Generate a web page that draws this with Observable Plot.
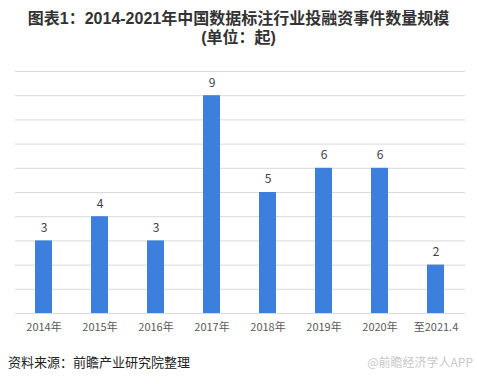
<!DOCTYPE html>
<html>
<head>
<meta charset="utf-8">
<script src="https://cdn.jsdelivr.net/npm/d3@7"></script>
<script src="https://cdn.jsdelivr.net/npm/@observablehq/plot@0.6"></script>
<style>
  html, body { margin: 0; padding: 0; background: #fff; }
  body { width: 477px; height: 384px; position: relative; overflow: hidden;
         font-family: "Noto Sans CJK SC", "Noto Sans", sans-serif; }
  .title { position: absolute; left: 0; width: 477px; text-align: center;
           font-family: "Liberation Sans", "Noto Sans CJK SC", sans-serif;
           font-size: 16px; font-weight: bold; line-height: 18px; color: #333; white-space: nowrap; }
  #t1 { top: 10px; }
  #t2 { top: 29px; }
  #chart { position: absolute; left: 0; top: 56px; }
  #source { position: absolute; left: 8px; top: 352px; font-size: 13px; color: #222; }
  #mark { position: absolute; right: 4px; top: 353px; font-size: 12px; color: #c8c8c8; }
</style>
</head>
<body>
<div class="title" id="t1">图表1：2014-2021年中国数据标注行业投融资事件数量规模</div>
<div class="title" id="t2">(单位：起)</div>
<div id="chart"></div>
<div id="source">资料来源：前瞻产业研究院整理</div>
<div id="mark">@前瞻经济学人APP</div>
<script>
const categories = ["2014年", "2015年", "2016年", "2017年", "2018年", "2019年", "2020年", "至2021.4"];
const values = [3, 4, 3, 9, 5, 6, 6, 2];
const gridTicks = [0, 1, 2, 3, 4, 5, 6, 7, 8, 9, 10];

const data = categories.map((c, i) => ({category: c, value: values[i]}));

const chart = Plot.plot({
  width: 477,
  height: 284,
  marginLeft: 15,
  marginRight: 12,
  marginTop: 15,
  marginBottom: 27,
  style: {fontFamily: "'Noto Sans CJK SC', 'Noto Sans', sans-serif", background: "transparent"},
  x: {domain: categories, paddingInner: 0.69, paddingOuter: 0.345, label: null, tickSize: 0, tickPadding: 10},
  y: {domain: [0, 10], axis: null},
  marks: [
    Plot.gridY(gridTicks, {stroke: "#d9d9d9", strokeOpacity: 1}),
    Plot.barY(data, {x: "category", y: "value", fill: "#3d7fdc"}),
    Plot.text(data, {x: "category", y: "value", text: d => String(d.value), dy: -13, fontSize: 12, fill: "#404040"}),
    Plot.axisX({tickSize: 0, tickPadding: 10, fontSize: 11, color: "#595959", label: null})
  ]
});
document.getElementById("chart").appendChild(chart);
</script>
</body>
</html>
